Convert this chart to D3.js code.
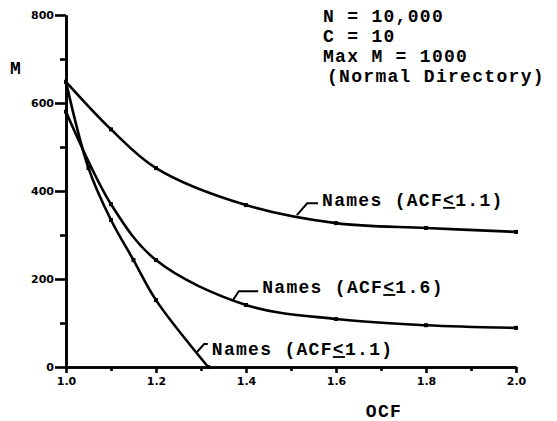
<!DOCTYPE html>
<html>
<head>
<meta charset="utf-8">
<script src="https://cdn.jsdelivr.net/npm/d3@7"></script>
<style>
  body { margin: 0; background: #fff; }
  svg { display: block; }
  .axis path, .axis line { stroke: #000; stroke-width: 2.6px; }
  .axis text { font-family: "DejaVu Sans", sans-serif; font-weight: bold; font-size: 11px; fill: #000; }
  .note { font-family: "Liberation Mono", monospace; font-weight: bold; font-size: 18px; letter-spacing: 1.3px; fill: #000; }
  .curve { fill: none; stroke: #000; stroke-width: 2.6px; }
</style>
</head>
<body>
<div class="chart"></div>
<script>
const w = 557;
const h = 421;

// values
const ocf1 = [1.0, 1.1, 1.2, 1.4, 1.6, 1.8, 2.0];
const m1 = [648, 540, 452, 368, 327, 316, 307];

const ocf2 = [1.0, 1.1, 1.2, 1.4, 1.6, 1.8, 2.0];
const m2 = [580, 370, 243, 141, 109, 95, 89];

const ocf3 = [1.0, 1.05, 1.1, 1.15, 1.2, 1.316];
const m3 = [648, 452, 334, 243, 152, 0];

const yTicks = [0, 200, 400, 600, 800];
const yMinor = [100, 300, 500, 700];
const xTicks = [1.0, 1.2, 1.4, 1.6, 1.8, 2.0];
const xMinor = [1.1, 1.3, 1.5, 1.7, 1.9];

const infoLines = ["N = 10,000", "C = 10", "Max M = 1000", "(Normal Directory)"];
const curveLabel = ["Names (ACF", "<", "1.1)"];
const curveLabel2 = ["Names (ACF", "<", "1.6)"];

const svg = d3.select(".chart")
  .append("svg")
  .attr("width", w)
  .attr("height", h);

const x = d3.scaleLinear().domain([1.0, 2.0]).range([66, 516]);
const y = d3.scaleLinear().domain([0, 800]).range([367, 15]);

// axes
svg.append("g")
  .attr("class", "axis")
  .attr("transform", "translate(66,0)")
  .call(d3.axisLeft(y).tickValues(yMinor).tickSize(6).tickFormat("").tickSizeOuter(0));

svg.append("g")
  .attr("class", "axis")
  .attr("transform", "translate(66,0)")
  .call(d3.axisLeft(y).tickValues(yTicks).tickSize(11).tickPadding(1).tickSizeOuter(0).tickFormat(d3.format("d")));

svg.append("g")
  .attr("class", "axis")
  .attr("transform", "translate(0,367)")
  .call(d3.axisBottom(x).tickValues(xMinor).tickSize(4).tickFormat("").tickSizeOuter(0));

svg.append("g")
  .attr("class", "axis")
  .attr("transform", "translate(0,367)")
  .call(d3.axisBottom(x).tickValues(xTicks).tickSize(6).tickPadding(4).tickSizeOuter(0).tickFormat(d3.format(".1f")));

// axis titles
svg.append("text")
  .attr("class", "note")
  .attr("x", 16)
  .attr("y", 74)
  .style("text-anchor", "middle")
  .text("M");

svg.append("text")
  .attr("class", "note")
  .attr("x", 384)
  .attr("y", 417)
  .style("text-anchor", "middle")
  .text("OCF");

// curves
const line = d3.line()
  .x(d => x(d[0]))
  .y(d => y(d[1]))
  .curve(d3.curveCatmullRom.alpha(0.5));

const series = [
  d3.zip(ocf1, m1),
  d3.zip(ocf2, m2),
  d3.zip(ocf3, m3)
];

svg.append("g")
  .selectAll("path")
  .data(series)
  .enter().append("path")
  .attr("class", "curve")
  .attr("d", line);

svg.append("g")
  .selectAll("rect")
  .data(series.flat())
  .enter().append("rect")
  .attr("x", d => x(d[0]) - 2)
  .attr("y", d => y(d[1]) - 2)
  .attr("width", 4)
  .attr("height", 4)
  .attr("fill", "#000");

// curve labels with leader hooks (data coords)
const labels = [
  { parts: curveLabel, at: [1.569, 366], from: [1.513, 345], bend: [1.536, 372] },
  { parts: curveLabel2, at: [1.436, 168], from: [1.371, 152], bend: [1.384, 172] },
  { parts: curveLabel, at: [1.324, 27], from: [1.291, 34], bend: [1.307, 52] }
];

labels.forEach(l => {
  svg.append("path")
    .attr("fill", "none")
    .attr("stroke", "#000")
    .attr("stroke-width", 2)
    .attr("d", d3.line()([
      [x(l.from[0]), y(l.from[1])],
      [x(l.bend[0]), y(l.bend[1])],
      [x(l.at[0]) - 4, y(l.bend[1])]
    ]));

  const t = svg.append("text")
    .attr("class", "note")
    .attr("x", x(l.at[0]))
    .attr("y", y(l.at[1]));
  t.append("tspan").text(l.parts[0]);
  t.append("tspan").style("text-decoration", "underline").text(l.parts[1]);
  t.append("tspan").text(l.parts[2]);
});

// parameter block
svg.append("g")
  .selectAll("text")
  .data(infoLines)
  .enter().append("text")
  .attr("class", "note")
  .attr("x", (d, i) => i == 3 ? 327 : 323)
  .attr("y", (d, i) => 22 + i * 20)
  .text(d => d);
</script>
</body>
</html>
